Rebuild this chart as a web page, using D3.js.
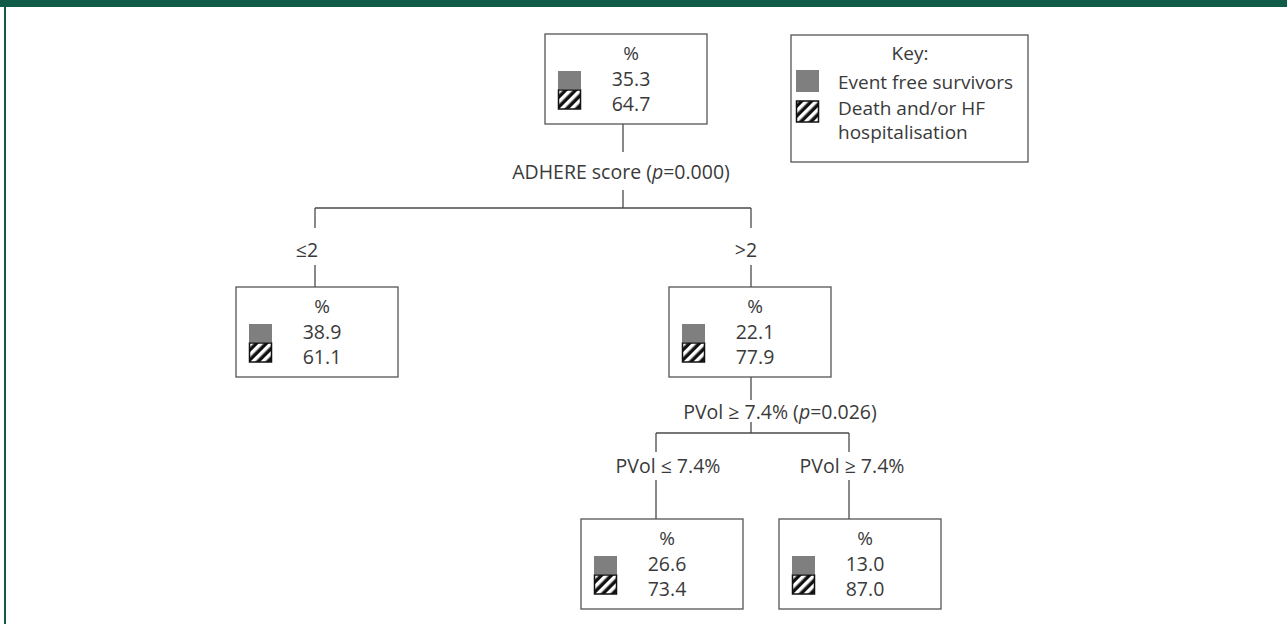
<!DOCTYPE html>
<html>
<head>
<meta charset="utf-8">
<script src="https://cdn.jsdelivr.net/npm/d3@7"></script>
<style>
	body { margin: 0; background: #fff; }
	svg text { font-family: "Open Sans", sans-serif; fill: #3a3a3a; }
</style>
</head>
<body>
<div id="chart"></div>
<script>
// Tree data
const nodeIds = ["root", "le2", "gt2", "pvolLo", "pvolHi"];
const parentIds = [null, "root", "root", "gt2", "gt2"];
const eventFree = [35.3, 38.9, 22.1, 26.6, 13.0];
const deathHF = [64.7, 61.1, 77.9, 73.4, 87.0];
const branchLabels = [null, "≤2", ">2", "PVol ≤ 7.4%", "PVol ≥ 7.4%"];

// Splits
const splitNodes = ["root", "gt2"];
const splitNames = ["ADHERE score (", "PVol ≥ 7.4% ("];
const splitP = ["0.000", "0.026"];

// Key
const keyTitle = "Key:";
const keyLabels = [["Event free survivors"], ["Death and/or HF", "hospitalisation"]];

/**
 * Layout
 */
let width = 1287;
let height = 624;
let boxW = 162;
let boxH = 90;
let green = "#115b49";
let fmt = d3.format(".1f");

// line x for each node, box center x for each node
let xLine = d3.scaleOrdinal().domain(nodeIds).range([623, 315, 751, 656, 849]);
let xBox = d3.scaleOrdinal().domain(nodeIds).range([626, 317, 750, 662, 860]);
// per depth: box top
let yBox = d3.scaleOrdinal().domain([0, 1, 2]).range([34, 287, 519]);
// per split depth: end of stem, label y, start of lower stem, bar y
let stemEnd = d3.scaleOrdinal().domain([0, 1]).range([152, 400]);
let splitLabelY = d3.scaleOrdinal().domain([0, 1]).range([172, 412]);
let stemStart2 = d3.scaleOrdinal().domain([0, 1]).range([190, 422]);
let barY = d3.scaleOrdinal().domain([0, 1]).range([208, 433]);
let dropEnd = d3.scaleOrdinal().domain([1, 2]).range([228, 452]);
let branchLabelY = d3.scaleOrdinal().domain([1, 2]).range([250, 466]);
let branchStemStart = d3.scaleOrdinal().domain([1, 2]).range([265, 480]);
let splitLabelDx = d3.scaleOrdinal().domain(splitNodes).range([-2, 29]);
let branchLabelDx = d3.scaleOrdinal().domain(nodeIds).range([0, -8, -5, 12, 3]);

let table = nodeIds.map((id, i) => ({
	id: id,
	parent: parentIds[i],
	values: [eventFree[i], deathHF[i]],
	branch: branchLabels[i]
}));
let root = d3.stratify().id(d => d.id).parentId(d => d.parent)(table);

let svg = d3.select("#chart").append("svg")
	.attr("width", width)
	.attr("height", height);

// hatch pattern
let defs = svg.append("defs");
let pat = defs.append("pattern")
	.attr("id", "hatch")
	.attr("patternUnits", "userSpaceOnUse")
	.attr("width", 7)
	.attr("height", 7)
	.attr("patternTransform", "rotate(45)");
pat.append("rect").attr("width", 7).attr("height", 7).attr("fill", "#111");
pat.append("rect").attr("width", 3.5).attr("height", 7).attr("fill", "#fff");

// frame: top bar and left rule
svg.append("rect").attr("x", 0).attr("y", 0).attr("width", width).attr("height", 7).attr("fill", green);
svg.append("rect").attr("x", 4).attr("y", 7).attr("width", 2).attr("height", height - 7).attr("fill", green);

let links = svg.append("g").attr("class", "links")
	.attr("fill", "none")
	.attr("stroke", "#4a4a4a")
	.attr("stroke-width", 1.3);

// splits
root.descendants().filter(d => d.children).forEach(function(d) {
	let k = splitNodes.indexOf(d.id);
	let x = xLine(d.id);
	let top = yBox(d.depth) + boxH;
	links.append("line").attr("x1", x).attr("x2", x).attr("y1", top).attr("y2", stemEnd(d.depth));
	links.append("line").attr("x1", x).attr("x2", x).attr("y1", stemStart2(d.depth)).attr("y2", barY(d.depth));
	let xs = d.children.map(c => xLine(c.id));
	links.append("line").attr("x1", d3.min(xs)).attr("x2", d3.max(xs))
		.attr("y1", barY(d.depth)).attr("y2", barY(d.depth));

	let t = svg.append("text")
		.attr("x", x + splitLabelDx(d.id))
		.attr("y", splitLabelY(d.depth))
		.attr("dy", "0.35em")
		.attr("text-anchor", "middle")
		.style("font-size", "19.5px");
	t.append("tspan").text(splitNames[k]);
	t.append("tspan").style("font-style", "italic").text("p");
	t.append("tspan").text("=" + splitP[k] + ")");

	d.children.forEach(function(c) {
		let cx = xLine(c.id);
		links.append("line").attr("x1", cx).attr("x2", cx).attr("y1", barY(d.depth)).attr("y2", dropEnd(c.depth));
		links.append("line").attr("x1", cx).attr("x2", cx).attr("y1", branchStemStart(c.depth)).attr("y2", yBox(c.depth));
		svg.append("text")
			.attr("x", cx + branchLabelDx(c.id))
			.attr("y", branchLabelY(c.depth))
			.attr("dy", "0.35em")
			.attr("text-anchor", "middle")
			.style("font-size", "19.5px")
			.text(c.data.branch);
	});
});

// node boxes
let node = svg.selectAll(".node")
	.data(root.descendants())
	.enter().append("g")
	.attr("class", "node")
	.attr("transform", d => "translate(" + (xBox(d.id) - boxW / 2) + "," + yBox(d.depth) + ")");

node.append("rect")
	.attr("width", boxW)
	.attr("height", boxH)
	.attr("fill", "#fff")
	.attr("stroke", "#555")
	.attr("stroke-width", 1.3);

node.append("text")
	.attr("x", boxW / 2 + 5)
	.attr("y", 19)
	.attr("dy", "0.35em")
	.attr("text-anchor", "middle")
	.style("font-size", "19px")
	.text("%");

node.append("rect")
	.attr("x", 13).attr("y", 37)
	.attr("width", 23).attr("height", 18)
	.attr("fill", "#7f7f7f");
node.append("rect")
	.attr("x", 13.5).attr("y", 56)
	.attr("width", 22).attr("height", 19)
	.attr("fill", "url(#hatch)")
	.attr("stroke", "#111")
	.attr("stroke-width", 1.5);

node.selectAll(".val")
	.data(d => d.data.values)
	.enter().append("text")
	.attr("class", "val")
	.attr("x", boxW / 2 + 5)
	.attr("y", (v, i) => 45 + i * 25.5)
	.attr("dy", "0.35em")
	.attr("text-anchor", "middle")
	.style("font-size", "19.5px")
	.text(v => fmt(v));

// key
let key = svg.append("g").attr("transform", "translate(791,35)");
key.append("rect")
	.attr("width", 237).attr("height", 127)
	.attr("fill", "#fff").attr("stroke", "#555").attr("stroke-width", 1.3);
key.append("text")
	.attr("x", 119).attr("y", 18).attr("dy", "0.35em")
	.attr("text-anchor", "middle")
	.style("font-size", "19px")
	.text(keyTitle);
key.append("rect").attr("x", 5).attr("y", 35).attr("width", 23).attr("height", 22).attr("fill", "#7f7f7f");
key.append("rect").attr("x", 5.5).attr("y", 66).attr("width", 22).attr("height", 21)
	.attr("fill", "url(#hatch)").attr("stroke", "#111").attr("stroke-width", 1.5);
keyLabels.forEach(function(lines, i) {
	lines.forEach(function(s, j) {
		key.append("text")
			.attr("x", 47)
			.attr("y", 47 + i * 26 + j * 24)
			.attr("dy", "0.35em")
			.style("font-size", "19px")
			.text(s);
	});
});
</script>
</body>
</html>
